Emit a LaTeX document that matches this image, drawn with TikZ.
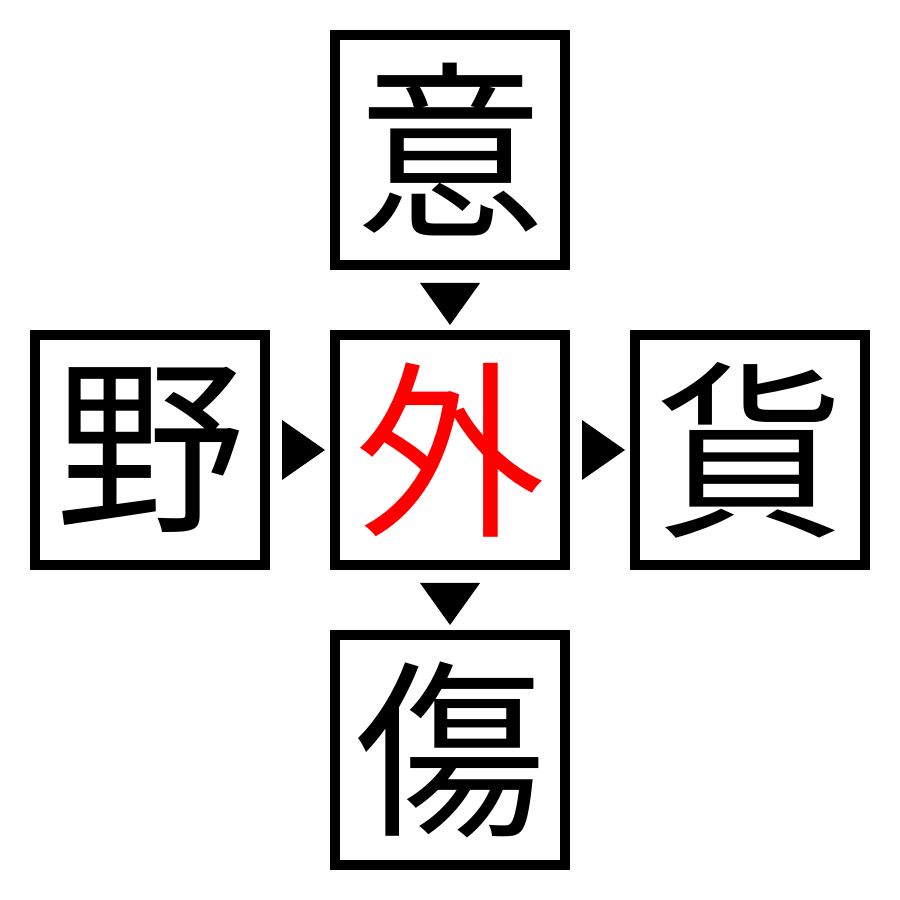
\documentclass[tikz,border=0pt]{standalone}
\usepackage{fontspec}
\newfontfamily\cjk{Noto Sans CJK JP}
\usetikzlibrary{positioning}
\tikzset{
    kanji/.style={draw, line width=1mm, minimum size=2.3cm, inner sep=0pt,
        font=\cjk\fontsize{54}{54}\selectfont}, % the boxes
    node distance=6mm, % gap between the boxes
}

\begin{document}
\begin{tikzpicture}
    \useasboundingbox (0,0) rectangle (9,9);
    \node[kanji, text=red] (wai) at (4.5,4.5) {外};
    \node[kanji, above=of wai] (yi) {意};
    \node[kanji, left=of wai] (ye) {野};
    \node[kanji, right=of wai] (huo) {貨};
    \node[kanji, below=of wai] (shang) {傷};
    % the arrow heads between the boxes
    \fill ([shift={(-3mm,-1.3mm)}]yi.south) -- ([shift={(3mm,-1.3mm)}]yi.south) -- ([yshift=0.5mm]wai.north) -- cycle;
    \fill ([shift={(1.2mm,3mm)}]ye.east) -- ([shift={(1.2mm,-3mm)}]ye.east) -- ([xshift=-0.5mm]wai.west) -- cycle;
    \fill ([shift={(1.2mm,3mm)}]wai.east) -- ([shift={(1.2mm,-3mm)}]wai.east) -- ([xshift=-0.5mm]huo.west) -- cycle;
    \fill ([shift={(-3mm,-1.3mm)}]wai.south) -- ([shift={(3mm,-1.3mm)}]wai.south) -- ([yshift=0.5mm]shang.north) -- cycle;
\end{tikzpicture}
\end{document}
